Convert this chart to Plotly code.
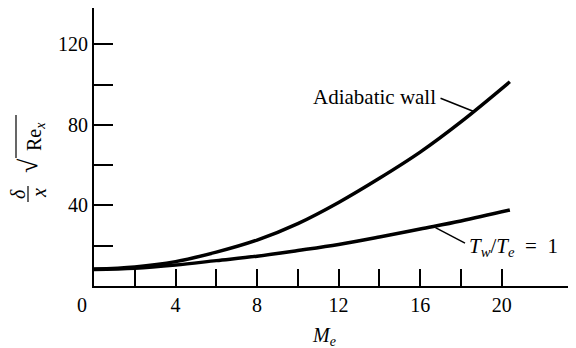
import plotly.graph_objects as go

# Data
mach = [0, 2, 4, 6, 8, 10, 12, 14, 16, 18, 20.4]
adiabatic_wall = [8.4, 9.5, 12.1, 16.8, 22.8, 31.0, 41.5, 53.5, 66.5, 81.5, 101.4]
tw_te_1 = [8.2, 8.8, 10.4, 12.6, 14.8, 17.6, 20.6, 24.3, 28.3, 32.3, 37.7]

x_tick_vals = [2, 4, 6, 8, 10, 12, 14, 16, 18, 20]
x_tick_text = ["", "4", "", "8", "", "12", "", "16", "", "20"]
y_tick_vals = [20, 40, 60, 80, 100, 120]
y_tick_text = ["", "40", "", "80", "", "120"]

FONT = "Liberation Serif"
OFF = 8  # page body margin of the browser
W, H = 576 - OFF, 348 - OFF
L, T, R, B = 94 - OFF, 8 - OFF, 0, 62
PW, PH = W - L - R, H - T - B


def px2paper(sx, sy):
    """screen pixel -> paper coords (for label placement only)"""
    return (sx - OFF - L) / PW, (H - B - (sy - OFF)) / PH


fig = go.Figure()
fig.add_trace(go.Scatter(x=mach, y=adiabatic_wall, mode="lines",
                         line=dict(color="black", width=3.5, shape="spline"),
                         showlegend=False, hoverinfo="skip"))
fig.add_trace(go.Scatter(x=mach, y=tw_te_1, mode="lines",
                         line=dict(color="black", width=3.5, shape="spline"),
                         showlegend=False, hoverinfo="skip"))

# Leader lines (data coordinates)
fig.add_shape(type="line", x0=17.0, y0=93.2, x1=18.6, y1=86.8,
              line=dict(color="black", width=1.5))
fig.add_shape(type="line", x0=16.75, y0=29.0, x1=18.2, y1=21.3,
              line=dict(color="black", width=1.5))

fig.add_annotation(x=16.83, y=93.6, xref="x", yref="y", text="Adiabatic wall",
                   showarrow=False, xanchor="right", yanchor="middle",
                   font=dict(family=FONT, size=21, color="black"), borderpad=0)
fig.add_annotation(x=18.35, y=19.6, xref="x", yref="y",
                   text="<i>T</i><sub><i>w</i></sub>/<i>T</i><sub><i>e</i></sub>  =  1",
                   showarrow=False, xanchor="left", yanchor="middle",
                   font=dict(family=FONT, size=21, color="black"), borderpad=0)

# "0" corner label
x0p, y0p = px2paper(82, 305)
fig.add_annotation(x=x0p, y=y0p, xref="paper", yref="paper", text="0",
                   showarrow=False, xanchor="center", yanchor="middle",
                   font=dict(family=FONT, size=20, color="black"), borderpad=0)

# x-axis title M_e
mx, my = px2paper(324, 336)
fig.add_annotation(x=mx, y=my, xref="paper", yref="paper",
                   text="<i>M</i><sub><i>e</i></sub>",
                   showarrow=False, xanchor="center", yanchor="middle",
                   font=dict(family=FONT, size=20, color="black"), borderpad=0)

# y-axis title: delta over x, times sqrt(Re_x), rotated
dx, dy = px2paper(18, 194)
fig.add_annotation(x=dx, y=dy, xref="paper", yref="paper", text="<i>δ</i>",
                   showarrow=False, textangle=-90, xanchor="center", yanchor="middle",
                   font=dict(family=FONT, size=20, color="black"), borderpad=0)
xx, xy = px2paper(39, 193)
fig.add_annotation(x=xx, y=xy, xref="paper", yref="paper", text="<i>x</i>",
                   showarrow=False, textangle=-90, xanchor="center", yanchor="middle",
                   font=dict(family=FONT, size=20, color="black"), borderpad=0)
bx0, by0 = px2paper(28, 186)
bx1, by1 = px2paper(28, 202)
fig.add_shape(type="line", xref="paper", yref="paper", x0=bx0, y0=by0, x1=bx1, y1=by1,
              line=dict(color="black", width=1.2))
rx, ry = px2paper(28, 166)
fig.add_annotation(x=rx, y=ry, xref="paper", yref="paper", text="√",
                   showarrow=False, textangle=-90, xanchor="center", yanchor="middle",
                   font=dict(family=FONT, size=26, color="black"), borderpad=0)
sx, sy = px2paper(35, 137)
fig.add_annotation(x=sx, y=sy, xref="paper", yref="paper",
                   text="Re<sub><i>x</i></sub>",
                   showarrow=False, textangle=-90, xanchor="center", yanchor="middle",
                   font=dict(family=FONT, size=20, color="black"), borderpad=0)
ox0, oy0 = px2paper(16, 158)
ox1, oy1 = px2paper(16, 115)
fig.add_shape(type="line", xref="paper", yref="paper", x0=ox0, y0=oy0, x1=ox1, y1=oy1,
              line=dict(color="black", width=1.2))

fig.update_layout(
    width=W, height=H,
    margin=dict(l=L, r=R, t=T, b=B),
    paper_bgcolor="white", plot_bgcolor="white",
    font=dict(family=FONT, size=20, color="black"),
    xaxis=dict(range=[0, PW / 20.385], showgrid=False, zeroline=False,
               showline=True, linecolor="black", linewidth=2,
               ticks="inside", ticklen=17, tickwidth=1.8, tickcolor="black",
               tickvals=x_tick_vals, ticktext=x_tick_text,
               tickfont=dict(family=FONT, size=20, color="black")),
    yaxis=dict(range=[0, PH / 2.014], showgrid=False, zeroline=False,
               showline=True, linecolor="black", linewidth=2,
               ticks="inside", ticklen=19, tickwidth=1.8, tickcolor="black",
               tickvals=y_tick_vals, ticktext=y_tick_text,
               tickfont=dict(family=FONT, size=20, color="black")),
)

fig.write_html("out.html")
